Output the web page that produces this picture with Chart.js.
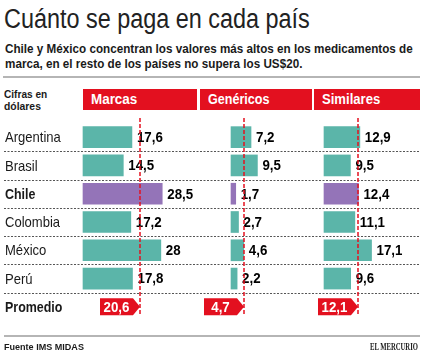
<!DOCTYPE html>
<html lang="es">
<head>
<meta charset="utf-8">
<script src="https://cdn.jsdelivr.net/npm/chart.js@4"></script>
<style>
  html, body { margin: 0; padding: 0; background: #fff; }
  #wrap { position: relative; width: 423px; height: 359px; overflow: hidden; font-family: "Liberation Sans", Arial, sans-serif; color: #1a1a1a; }
  #grafico { position: absolute; left: 0; top: 0; }
  .ajuste { display: inline-block; white-space: nowrap; transform-origin: 0 0; }
  .titulo { position: absolute; left: 4px; top: 6px; font-size: 27px; line-height: 27px; color: #222; }
  .bajada { position: absolute; left: 5px; top: 41px; font-size: 13px; font-weight: bold; line-height: 15px; }
  .linea { position: absolute; height: 2px; background: #b5b5b5; }
  .cifras { position: absolute; left: 4px; top: 88px; font-size: 11.5px; font-weight: bold; line-height: 12px; }
  .cabecera { position: absolute; top: 89px; height: 21px; background: #e3101f; color: #fff; font-weight: bold; font-size: 14px; line-height: 21px; padding-left: 8px; box-sizing: border-box; }
  .fuente { position: absolute; left: 4px; top: 341px; font-size: 9.5px; font-weight: bold; }
  .marca { position: absolute; left: 370px; top: 341px; font-size: 10px; font-weight: bold; font-family: "Liberation Serif", serif; }
</style>
</head>
<body>
<div id="wrap">
  <div class="titulo"><span class="ajuste" data-w="306">Cuánto se paga en cada país</span></div>
  <div class="bajada"><span class="ajuste" id="b1" data-w="408">Chile y México concentran los valores más altos en los medicamentos de</span><br><span class="ajuste" id="b2">marca, en el resto de los países no supera los US$20.</span></div>
  <div class="linea" style="left:3px; top:76px; width:417px;"></div>
  <div class="cifras"><span class="ajuste" data-w="43">Cifras en</span><br><span class="ajuste" data-w="37">dólares</span></div>
  <div class="cabecera" style="left:83px; width:114px;"><span class="ajuste" data-w="46">Marcas</span></div>
  <div class="cabecera" style="left:200px; width:112px;"><span class="ajuste" data-w="61">Genéricos</span></div>
  <div class="cabecera" style="left:314px; width:106px;"><span class="ajuste" data-w="58">Similares</span></div>
  <canvas id="grafico" width="423" height="359"></canvas>
  <div class="linea" style="left:4px; top:335px; width:416px;"></div>
  <div class="fuente"><span class="ajuste" data-w="80">Fuente IMS MIDAS</span></div>
  <div class="marca"><span class="ajuste" data-w="48">EL MERCURIO</span></div>
</div>
<script>
// Datos (US$)
const paises = ["Argentina", "Brasil", "Chile", "Colombia", "México", "Perú", "Promedio"];
const marcas = [17.6, 14.5, 28.5, 17.2, 28, 17.8, null];
const genericos = [7.2, 9.5, 1.7, 2.7, 4.6, 2.2, null];
const similares = [12.9, 9.5, 12.4, 11.1, 17.1, 9.6, null];
const promedios = [20.6, 4.7, 12.1];

const TEAL = "#5bb5a9";
const MORADO = "#9474b8";
const ROJO = "#e3101f";
const FUENTE = '"Liberation Sans", Arial, sans-serif';

// textos condensados a mano (no hay fuente estrecha instalada)
document.querySelectorAll(".ajuste[data-w]").forEach(el => {
    const f = Number(el.dataset.w) / el.offsetWidth;
    el.style.transform = "scaleX(" + f + ")";
    if (el.id === "b1") document.getElementById("b2").style.transform = "scaleX(" + f + ")";
});

// pixeles por dolar y origen de cada columna
const escala = 2.78;
const ancho = 423;
function ejeX(cero) {
    return { type: "linear", display: false, bounds: "data", min: -cero / escala, max: (ancho - cero) / escala };
}

function color(ctx) {
    return paises[ctx.dataIndex] === "Chile" ? MORADO : TEAL;
}

function fmt(v) {
    return String(v).replace(".", ",");
}

function texto(ctx, s, x, y, sx, align) {
    ctx.save();
    ctx.translate(x, y);
    ctx.scale(sx, 1);
    ctx.textAlign = align;
    ctx.fillText(s, 0, 0);
    ctx.restore();
}

const dibujos = {
    id: "dibujos",
    beforeDatasetsDraw(chart) {
        const ctx = chart.ctx;
        const y = chart.scales.y;
        ctx.save();
        // separadores punteados
        ctx.strokeStyle = "#555";
        ctx.lineWidth = 1;
        ctx.setLineDash([2, 1.5]);
        for (let i = 0; i < paises.length - 1; i++) {
            const yy = Math.round((y.getPixelForValue(i) + y.getPixelForValue(i + 1)) / 2) + 0.5;
            ctx.beginPath();
            ctx.moveTo(4, yy);
            ctx.lineTo(420, yy);
            ctx.stroke();
        }
        // nombres de paises
        ctx.setLineDash([]);
        ctx.fillStyle = "#1a1a1a";
        ctx.textBaseline = "middle";
        paises.forEach((p, i) => {
            const negrita = p === "Chile" || p === "Promedio";
            ctx.font = (negrita ? "bold " : "") + "15px " + FUENTE;
            texto(ctx, p, 5, y.getPixelForValue(i) + 1, negrita ? 0.83 : 0.87, "left");
        });
        ctx.restore();
    },
    afterDatasetsDraw(chart) {
        const ctx = chart.ctx;
        const y = chart.scales.y;
        ctx.save();
        // valores al final de cada barra
        ctx.fillStyle = "#000";
        ctx.font = "bold 14px " + FUENTE;
        ctx.textBaseline = "middle";
        chart.data.datasets.forEach((ds, d) => {
            chart.getDatasetMeta(d).data.forEach((el, i) => {
                if (ds.data[i] == null) return;
                texto(ctx, fmt(ds.data[i]), el.x + 5, el.y + 1, 0.95, "left");
            });
        });
        // promedio: linea punteada roja y etiqueta
        const yProm = y.getPixelForValue(paises.length - 1);
        chart.data.datasets.forEach((ds, d) => {
            const xa = Math.round(chart.scales[ds.xAxisID].getPixelForValue(promedios[d]));
            ctx.strokeStyle = ROJO;
            ctx.lineWidth = 1.5;
            ctx.setLineDash([4, 2]);
            ctx.beginPath();
            ctx.moveTo(xa, 118);
            ctx.lineTo(xa, yProm + 8);
            ctx.stroke();
            ctx.setLineDash([]);
            const h = 17, w = 40, punta = 7;
            const top = yProm - h / 2;
            ctx.fillStyle = ROJO;
            ctx.beginPath();
            ctx.moveTo(xa - w, top);
            ctx.lineTo(xa - punta, top);
            ctx.lineTo(xa, yProm);
            ctx.lineTo(xa - punta, top + h);
            ctx.lineTo(xa - w, top + h);
            ctx.closePath();
            ctx.fill();
            ctx.fillStyle = "#fff";
            ctx.font = "bold 14px " + FUENTE;
            texto(ctx, fmt(promedios[d]), xa - (w + punta) / 2, yProm + 1, 0.95, "center");
        });
        ctx.restore();
    }
};

new Chart(document.getElementById("grafico"), {
    type: "bar",
    data: {
        labels: paises,
        datasets: [
            { label: "Marcas", data: marcas, xAxisID: "xM", backgroundColor: color, grouped: false, barThickness: 21 },
            { label: "Genéricos", data: genericos, xAxisID: "xG", backgroundColor: color, grouped: false, barThickness: 21 },
            { label: "Similares", data: similares, xAxisID: "xS", backgroundColor: color, grouped: false, barThickness: 21 }
        ]
    },
    options: {
        indexAxis: "y",
        responsive: false,
        animation: false,
        events: [],
        layout: { padding: { top: 123, bottom: 38, left: 0, right: 0 } },
        plugins: { legend: { display: false }, tooltip: { enabled: false } },
        scales: {
            y: { type: "category", display: false, offset: true },
            xM: ejeX(83),
            xG: ejeX(231),
            xS: ejeX(324)
        }
    },
    plugins: [dibujos]
});
</script>
</body>
</html>
